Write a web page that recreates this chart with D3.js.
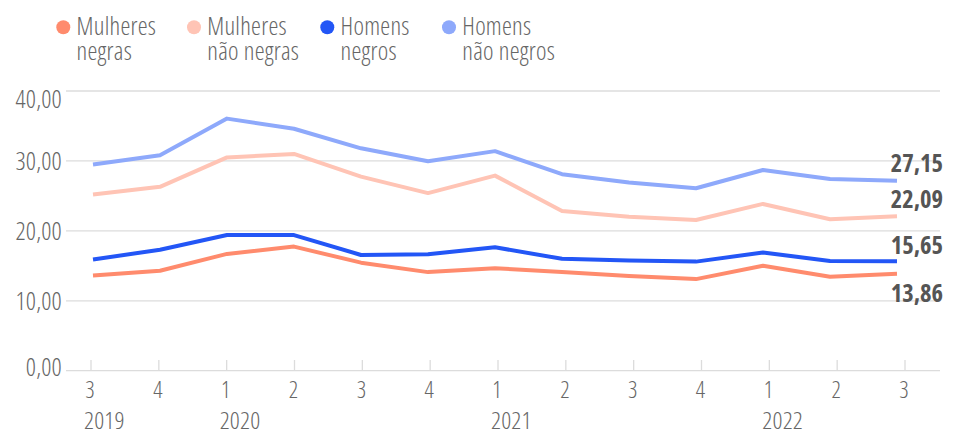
<!DOCTYPE html>
<html><head><meta charset="utf-8">
<script src="https://cdn.jsdelivr.net/npm/d3@7"></script>
<style>
body{margin:0;background:#fff;}
svg text{font-family:"Open Sans",sans-serif;font-stretch:75%;}
</style></head><body>
<svg id="c" width="958" height="430"></svg>
<script>
const quarters = ["3","4","1","2","3","4","1","2","3","4","1","2","3"];
const years = [{label:"2019", idx:0},{label:"2020", idx:2},{label:"2021", idx:6},{label:"2022", idx:10}];
const yTicks = [0,10,20,30,40];
const seriesNames = [["Mulheres","negras"],["Mulheres","não negras"],["Homens","negros"],["Homens","não negros"]];
const colors = ["#ff8b6d","#ffc4b5","#2356f6","#8ea9fb"];
const mulheresNegras    = [13.6,14.3,16.7,17.75,15.45,14.1,14.65,14.1,13.55,13.1,15.0,13.45,13.86];
const mulheresNaoNegras = [25.2,26.3,30.5,31.0,27.75,25.4,27.9,22.85,22.0,21.55,23.85,21.65,22.09];
const homensNegros      = [15.9,17.3,19.4,19.4,16.55,16.65,17.65,16.0,15.75,15.6,16.9,15.7,15.65];
const homensNaoNegros   = [29.5,30.8,36.05,34.6,31.8,29.96,31.4,28.1,26.9,26.1,28.7,27.4,27.15];
const series = [mulheresNegras, mulheresNaoNegras, homensNegros, homensNaoNegros];
const fmt = v => d3.format(".2f")(v).replace(".", ",");

const svg = d3.select("#c");
const idx = d3.range(quarters.length);
const xTick = d3.scalePoint().domain(idx).range([91, 905]);
const xLine = d3.scalePoint().domain(idx).range([93, 897]);
const y = d3.scaleLinear().domain([0,40]).range([370.7, 91]);

svg.append("g").selectAll("line").data(yTicks).join("line")
  .attr("x1",66).attr("x2",940).attr("y1",d=>y(d)).attr("y2",d=>y(d))
  .attr("stroke","#dcdcdc").attr("stroke-width",1.3);
svg.append("g").selectAll("text").data(yTicks).join("text")
  .attr("x",62).attr("y",d=>y(d) + (d===40 ? 17 : d===0 ? 5 : 9)).attr("text-anchor","end")
  .attr("fill","#666").attr("font-size",25).attr("font-weight",300).attr("letter-spacing",0.2)
  .text(d=>fmt(d));
svg.append("g").selectAll("line").data(idx).join("line")
  .attr("x1",d=>xTick(d)).attr("x2",d=>xTick(d)).attr("y1",360).attr("y2",370.7)
  .attr("stroke","#dcdcdc").attr("stroke-width",1.3);
svg.append("g").selectAll("text").data(idx).join("text")
  .attr("x",d=>xTick(d)-1).attr("y",397.5).attr("text-anchor","middle")
  .attr("fill","#666").attr("font-size",23).attr("font-weight",300)
  .text(d=>quarters[d]);
svg.append("g").selectAll("text").data(years).join("text")
  .attr("x",d=>xTick(d.idx)-7).attr("y",429)
  .attr("fill","#666").attr("font-size",24.5).attr("font-weight",300).attr("letter-spacing",0.2)
  .text(d=>d.label);

const line = d3.line().x((d,i)=>xLine(i)).y(d=>y(d));
svg.append("g").selectAll("path").data(series).join("path")
  .attr("d",d=>line(d)).attr("fill","none")
  .attr("stroke",(d,i)=>colors[i]).attr("stroke-width",4).attr("stroke-linejoin","round");

const labelY = [302,208,254,172];
svg.append("g").selectAll("text").data(series).join("text")
  .attr("x",943).attr("y",(d,i)=>labelY[i]).attr("text-anchor","end")
  .attr("fill","#555").attr("font-size",24.5).attr("font-weight",700)
  .text(d=>fmt(d[d.length-1]));

const legX = [63.3,194,327.3,449];
const leg = svg.append("g").selectAll("g").data(seriesNames).join("g")
  .attr("transform",(d,i)=>`translate(${legX[i]},0)`);
leg.append("circle").attr("cx",0).attr("cy",27.3).attr("r",7).attr("fill",(d,i)=>colors[i]);
leg.append("text").attr("x",13.3).attr("y",35).attr("fill","#666").attr("font-size",25).attr("font-weight",300).attr("letter-spacing",0.25).text(d=>d[0]);
leg.append("text").attr("x",13.3).attr("y",60).attr("fill","#666").attr("font-size",25).attr("font-weight",300).attr("letter-spacing",0.25).text(d=>d[1]);
</script></body></html>
